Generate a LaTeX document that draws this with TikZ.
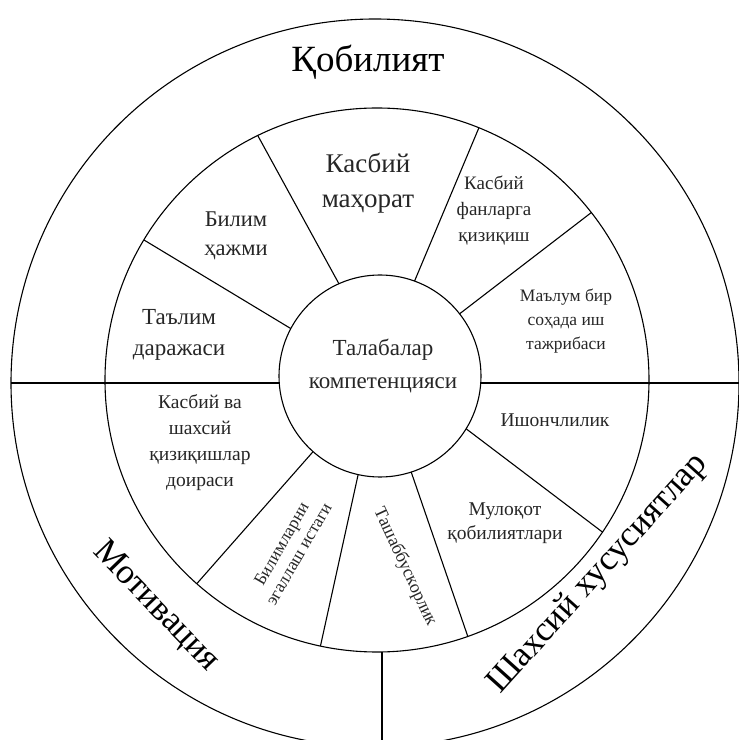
\documentclass[tikz,border=0pt]{standalone}
\usepackage{fontspec}
\setmainfont{Liberation Serif}
\begin{document}
\begin{tikzpicture}[x=1pt,y=1pt,
  ring/.style={line width=1.1pt},
  lbl/.style={align=center, inner sep=0pt, text=black!85},
  big/.style={inner sep=0pt, font=\fontsize{35}{38}\selectfont}]
\useasboundingbox (0,0) rectangle (739,740);
\clip (0,0) rectangle (739,740);
% centres
\coordinate (co) at (375,357);
\coordinate (cm) at (377,360);
\coordinate (ci) at (380,364);
% circles
\draw[ring] (co) circle[radius=364];
\draw[ring] (cm) circle[radius=272];
\draw[ring] (ci) circle[radius=101];
% outer ring divisions
\coordinate (hl1) at (11,357);
\coordinate (hl2) at (279,357);
\coordinate (hr1) at (481,357);
\coordinate (hr2) at (739,357);
\coordinate (vb1) at (382,88);
\coordinate (vb2) at (382,-10);
\draw[ring] (hl1) -- (hl2);
\draw[ring] (hr1) -- (hr2);
\draw[ring] (vb1) -- (vb2);
% spokes of the middle ring
\foreach \a/\b in {152/149, 114/116, 70/68, 38/38, 228.5/228.5, 257.5/258, 288/289.5, 328.5/326}
  \draw[ring] ([shift={(\a:101)}]ci) -- ([shift={(\b:272)}]cm);
% outer labels
\node[big, font=\fontsize{37}{40}\selectfont] (kob) at (368,678) {Қобилият};
\node[big, rotate=-46] (mot) at (156,133) {Мотивация};
\node[big, rotate=48] (shx) at (598,166) {Шахсий хусусиятлар};
% centre
\node[lbl, font=\fontsize{23}{33}\selectfont] (tal) at (383,374) {Талабалар\\компетенцияси};
% upper sectors
\node[lbl, font=\fontsize{27}{35}\selectfont] (kmah) at (368,557) {Касбий\\маҳорат};
\node[lbl, font=\fontsize{22.5}{29}\selectfont] (bil) at (236,504) {Билим\\ҳажми};
\node[lbl, font=\fontsize{23}{31}\selectfont] (tad) at (179,405) {Таълим\\даражаси};
\node[lbl, font=\fontsize{19}{26}\selectfont] (kfan) at (494,529) {Касбий\\фанларга\\қизиқиш};
\node[lbl, font=\fontsize{17.5}{24}\selectfont] (mal) at (566,419) {Маълум бир\\соҳада иш\\тажрибаси};
% lower sectors
\node[lbl, font=\fontsize{19.5}{26}\selectfont] (ksh) at (200,297) {Касбий ва\\шахсий\\қизиқишлар\\доираси};
\node[lbl, font=\fontsize{19.5}{24}\selectfont] (ish) at (555,320) {Ишончлилик};
\node[lbl, font=\fontsize{19.5}{24}\selectfont] (mul) at (505,217) {Мулоқот\\қобилиятлари};
\node[lbl, rotate=60, font=\fontsize{17.5}{20}\selectfont] (bilim) at (290,191) {Билимларни\\эгаллаш истаги};
\node[lbl, rotate=-65, font=\fontsize{18}{20}\selectfont] (tash) at (405,173) {Ташаббускорлик};
\end{tikzpicture}
\end{document}
